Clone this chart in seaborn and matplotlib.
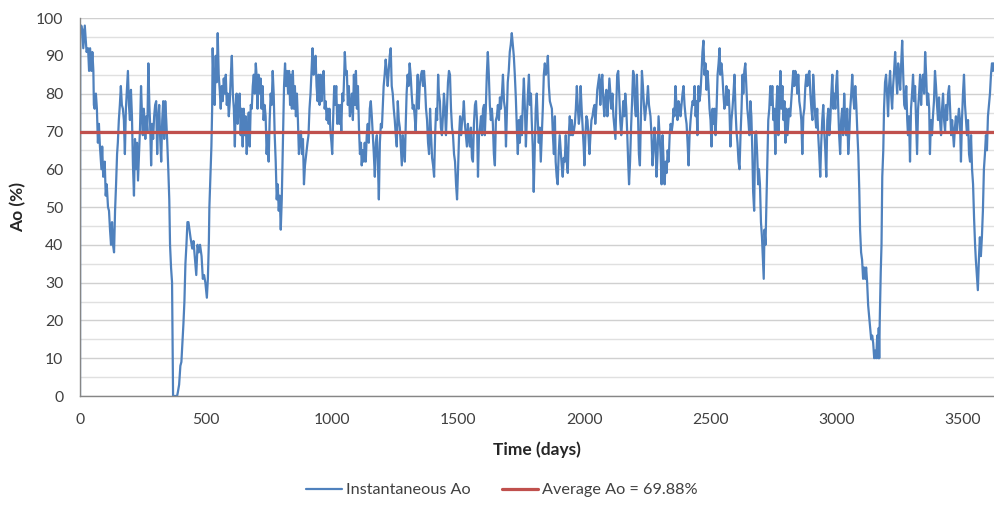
import matplotlib
matplotlib.use("Agg")
import matplotlib.pyplot as plt
import seaborn as sns
import pandas as pd
from matplotlib.lines import Line2D
from matplotlib.ticker import MultipleLocator

AVG_AO = 69.88

D1 = [0,1,5,9,13,19,23,26,32,36,40,45,49,53,55,58,63,67,71,75,79,85,88,92,98,102,106,111,115,119,
      123,127,131,135,139,143,147,150,154,158,162,166,170,174,178,182,186,190,194,198,202,206,210,214,
      218,222,226,230,234,238,242,245,249,253,259,263,267,271,275,278,282,286,290,294,298,302,306,310,
      314,318,322,326,330,334,338,342,346,350,354,357,361,365,369,377,385,388,393,398,402,406,410,414,
      418,422,426,430]
V1 = [0,97,98,97,92,98,94,91,92,86,92,86,91,86,77,76,80,76,67,72,66,60,66,58,62,53,56,50,49,44,
      40,46,40,38,49,56,64,67,73,77,82,77,76,73,64,76,81,86,77,73,81,74,61,53,68,60,67,57,64,71,
      82,76,69,76,68,74,70,88,77,72,61,72,68,74,77,78,64,73,77,68,62,73,78,68,78,73,67,60,52,40,
      34,30,0,0,0,1,3,8,9,14,19,25,35,40,46,46]

D2 = [438,445,450,455,461,466,471,476,482,487,492,497,503,507,511,513,517,521,524,526,
      530,534,538,542,546,550,554,558,562,566,570,574,578,582,586,590,594,598,602,606,
      610,614,617,621,625,629,633,637,641,645,649,653,657,661,665,669,673,677,681,685,
      689,693,697,701,704,708,712,716,720,724,728,732,736,740,744,748,752,756,760,764,
      768,772,776,780,784,788,792,796,800,803,806,809,813,817,821,825,829,833,836,840,
      844,848,852,856,860,864,868,872,876,880,884,888,892]
V2 = [42,39,41,37,32,40,38,40,37,31,32,30,26,31,41,50,58,66,76,92,
      82,77,90,83,96,85,81,76,82,78,84,80,85,77,80,74,78,85,90,80,
      76,66,76,80,72,77,80,69,76,66,76,69,74,64,70,75,66,77,76,82,
      85,80,88,84,76,85,80,84,76,82,73,77,74,64,69,62,73,80,77,86,
      80,69,62,52,56,49,53,44,52,62,71,82,88,82,86,80,86,77,85,76,
      86,76,82,74,80,73,64,68,70,64,68,56,61]

D3 = [897,902,906,910,914,918,922,926,930,934,938,942,946,950,954,958,962,966,970,974,
      978,982,986,989,993,997,1000,1004,1008,1012,1016,1020,1024,1028,1032,1036,1040,1044,1048,1050,
      1054,1058,1062,1066,1070,1074,1078,1082,1086,1090,1094,1098,1102,1106,1110,1114,1117,1121,1125,1129,
      1133,1137,1141,1145,1149,1153,1157,1161,1165,1169,1173,1177,1181,1185,1189,1193,1197,1201,1204,1208,
      1212,1216,1220,1224,1228,1232,1236,1240,1244,1248,1252,1256,1260,1264,1268,1272,1276,1280,1284,1288,
      1292,1295,1299,1303,1307,1311,1315,1319,1323,1327,1331,1335,1339,1343,1347]
V3 = [64,67,69,76,80,86,92,85,86,90,82,78,85,77,85,78,83,86,76,78,
      73,76,72,76,70,67,64,74,82,77,82,72,77,72,77,70,80,78,86,91,
      85,86,77,82,74,76,80,73,85,77,86,76,82,71,64,67,61,65,62,67,
      62,69,72,67,76,78,74,69,64,58,67,69,62,52,67,72,71,77,82,85,
      89,86,82,86,90,92,82,80,76,73,69,66,78,73,71,66,61,69,66,62,
      73,80,85,82,88,85,80,76,77,74,70,78,85,76,82]

D4 = [1352,1356,1360,1364,1368,1372,1376,1380,1384,1388,1392,1396,1400,1404,1408,1412,1416,1420,1423,1427,
      1431,1435,1439,1443,1447,1451,1455,1459,1463,1467,1471,1475,1479,1483,1487,1491,1495,1499,1503,1507,
      1511,1514,1518,1522,1526,1530,1534,1538,1542,1546,1550,1554,1558,1562,1566,1570,1574,1578,1582,1586,
      1590,1594,1598,1602,1605,1609,1613,1617,1621,1625,1629,1633,1637,1641,1645,1649,1653,1657,1661,1665,
      1669,1673,1677,1681,1685,1689,1693,1696,1700,1704,1708,1712,1716,1720,1724,1728,1732,1736,1740,1744,
      1748,1752,1756,1760,1764,1768,1772,1776,1780,1784,1788,1791,1795,1799,1802]
V4 = [85,86,82,86,82,76,73,67,64,76,69,63,61,58,69,76,73,85,80,78,
      71,69,74,80,76,69,76,83,86,85,76,71,69,64,62,56,52,60,69,74,
      69,72,74,78,72,69,66,72,68,66,71,63,62,72,77,78,73,58,69,71,
      74,69,76,77,69,76,85,91,85,77,73,76,72,64,61,73,74,77,73,79,
      76,80,85,78,76,66,76,83,86,91,93,96,93,90,85,79,71,64,73,67,
      74,69,78,84,76,66,74,80,85,77,80,73,66,54,62]

D5 = [1807,1811,1815,1819,1823,1827,1831,1835,1839,1843,1847,1851,1855,1859,1863,1867,1871,1875,1879,1883,
      1886,1890,1894,1898,1902,1906,1910,1914,1918,1922,1926,1930,1934,1938,1942,1946,1950,1954,1958,1962,
      1966,1970,1974,1978,1981,1985,1989,1993,1997,2000,2004,2008,2012,2016,2020,2024,2028,2032,2036,2040,
      2043,2047,2051,2055,2059,2063,2067,2071,2075,2079,2083,2087,2091,2095,2099,2103,2107,2111,2115,2119,
      2123,2126,2130,2134,2138,2142,2146,2150,2154,2158,2162,2166,2170,2174,2177,2181,2185,2189,2193,2196,
      2200,2204,2208,2212,2216,2220,2224,2228,2232,2236,2240,2244,2248,2252,2256]
V5 = [76,80,73,67,71,62,69,76,85,88,85,86,90,82,78,77,76,69,64,74,
      62,58,56,64,69,65,61,58,63,62,69,62,59,69,74,69,73,69,70,72,
      76,82,76,72,74,82,76,71,66,61,69,74,73,69,64,69,73,74,76,77,
      72,76,81,83,85,77,83,85,78,74,79,81,74,78,84,80,76,80,74,71,
      68,76,85,86,80,73,69,73,78,74,80,76,69,61,56,62,71,78,86,85,
      77,74,85,76,64,61,73,86,82,77,73,76,78,82,77]

D6 = [2262,2266,2270,2274,2278,2282,2286,2290,2294,2298,2302,2306,2310,2314,2318,2322,2326,2330,2334,2338,
      2342,2346,2350,2353,2357,2361,2365,2369,2373,2377,2381,2385,2389,2393,2397,2401,2405,2409,2413,2417,
      2421,2425,2429,2433,2437,2441,2444,2448,2452,2456,2460,2464,2468,2472,2476,2480,2484,2488,2492,2496,
      2500,2504,2508,2512,2516,2520,2524,2528,2532,2536,2539,2543,2547,2551,2555,2559,2563,2567,2571,2575,
      2579,2583,2587,2591,2595,2599,2603,2607,2611,2615,2619,2623,2627,2630,2634,2638,2642,2646,2650,2654,
      2658,2662,2666,2669,2673,2677,2681,2685,2689,2692,2696,2700,2704,2708,2711]
V6 = [74,69,61,65,71,67,58,64,74,69,64,56,69,62,56,62,59,65,62,69,
      72,70,72,76,74,82,77,73,78,77,74,77,80,82,77,74,72,67,61,69,
      73,76,78,77,82,74,78,69,82,78,80,85,91,94,85,88,81,86,82,76,
      73,66,76,72,76,69,76,85,88,92,85,88,85,80,76,77,82,77,81,76,
      66,73,76,80,85,76,70,67,62,60,69,76,85,80,86,88,82,76,73,69,
      78,74,64,54,49,69,70,64,56,60,56,46,42,36,31]

D7 = [2714,2718,2721,2725,2729,2733,2737,2741,2745,2749,2753,2757,2761,2765,2769,2773,2777,2781,2785,2789,2793,
      2797,2801,2805,2809,2812,2816,2820,2824,2828,2832,2836,2840,2844,2848,2852,2856,2860,2864,2868,2872,
      2876,2880,2884,2888,2892,2896,2900,2904,2907,2911,2915,2919,2923,2927,2931,2935,2939,2943,2947,2951,
      2955,2959,2963,2967,2971,2975,2979,2983,2987,2991,2995,2998,3002,3006,3010,3014,3018,3022,3026,3030,
      3034,3038,3042,3046,3050,3054,3058,3062,3066,3070,3074,3078,3082,3086,3090,3093,3097,3101,3105,3109,
      3113,3117,3121,3125,3129,3133,3137,3141,3145,3149,3153,3157,3161,3165,3167]
V7 = [44,40,49,62,73,76,82,77,82,73,76,64,76,82,69,76,86,76,82,73,78,
      67,76,69,73,76,74,78,82,86,82,86,85,80,85,78,76,73,64,74,76,
      82,85,82,85,86,80,76,73,85,80,74,71,76,69,64,58,67,73,77,70,
      65,58,73,76,69,73,80,85,76,80,76,82,86,77,69,64,73,76,69,80,
      73,69,76,64,69,76,80,85,79,76,82,77,70,64,54,44,38,36,31,34,
      31,34,30,24,21,18,15,16,14,10,12,10,16,10,18]

D8 = [3169,3171,3175,3178,3181,3185,3188,3192,3196,3200,3204,3208,3212,3216,3220,3224,3228,3232,3236,3240,
      3244,3248,3252,3256,3260,3264,3268,3272,3276,3280,3283,3287,3291,3295,3299,3303,3307,3311,3315,3319,
      3323,3327,3331,3335,3339,3343,3347,3351,3355,3359,3363,3367,3370,3374,3378,3382,3386,3390,3394,3398,
      3402,3406,3410,3414,3418,3422,3426,3430,3434,3438,3442,3446,3450,3454,3458,3461,3465,3469,3473,3477,
      3481,3485,3489,3493,3497,3501,3505,3509,3513,3517,3521,3525,3529,3533,3537,3541,3545,3549,3552,3556,
      3560,3564,3568,3572,3576,3580,3584,3588,3592,3596,3600,3604,3608,3612,3616,3620,3622]
V8 = [10,20,33,40,58,65,76,83,85,80,74,82,86,80,76,82,86,91,85,80,
      88,85,81,88,94,85,77,76,82,73,69,74,62,76,80,85,78,82,73,64,
      76,80,85,77,83,85,80,91,85,77,80,76,64,73,69,74,78,86,82,77,
      73,79,73,69,76,80,73,70,77,73,80,82,76,69,73,70,66,71,74,70,
      73,76,73,62,73,80,85,77,73,69,73,64,62,69,60,56,47,40,36,32,
      28,36,42,37,42,49,60,64,69,65,74,77,80,85,88,86,88]

X_TICKS = [0, 500, 1000, 1500, 2000, 2500, 3000, 3500]
Y_TICKS = [0, 10, 20, 30, 40, 50, 60, 70, 80, 90, 100]

days = D1 + D2 + D3 + D4 + D5 + D6 + D7 + D8
ao = V1 + V2 + V3 + V4 + V5 + V6 + V7 + V8
df = pd.DataFrame({"day": days, "ao": ao})

sns.set_style("white")
plt.rcParams["font.family"] = ["Lato", "DejaVu Sans"]

BLUE = "#4F81BD"
RED = "#C0504D"
GRID = "#D0D0D0"
AXIS = "#868686"
TXT = "#404040"

fig = plt.figure(figsize=(9.95, 5.11), dpi=100)
ax = fig.add_axes([80 / 995, 1 - 396 / 511, (994 - 80) / 995, (396 - 18) / 511])

sns.lineplot(data=df, x="day", y="ao", ax=ax, color=BLUE, lw=1.6,
             sort=False, estimator=None, errorbar=None)
ax.axhline(AVG_AO, color=RED, lw=2.3, zorder=3)

ax.set_xlim(0, 3624)
ax.set_ylim(0, 100)
ax.set_xticks(X_TICKS)
ax.set_yticks(Y_TICKS)
ax.yaxis.set_minor_locator(MultipleLocator(5))
ax.grid(which="major", axis="y", color=GRID, lw=1)
ax.grid(which="minor", axis="y", color="#E0E0E0", lw=1)
ax.grid(which="both", axis="x", visible=False)
ax.set_axisbelow(True)

for s in ["top", "right"]:
    ax.spines[s].set_visible(False)
for s in ["left", "bottom"]:
    ax.spines[s].set_color(AXIS)
    ax.spines[s].set_linewidth(1)

ax.tick_params(axis="both", which="major", direction="out", length=5, width=1,
               color=AXIS, labelsize=11.3, labelcolor=TXT)
ax.tick_params(axis="x", which="major", pad=7)
ax.tick_params(axis="y", which="major", pad=7)
ax.tick_params(which="minor", length=0)

ax.set_xlabel("Time (days)", fontsize=12.5, fontweight="bold", color="#262626")
ax.set_ylabel("Ao (%)", fontsize=12.5, fontweight="bold", color="#262626")
ax.xaxis.label.set_verticalalignment("center")
ax.xaxis.set_label_coords(0.5, (396 - 450) / 378)
ax.yaxis.label.set_verticalalignment("center")
ax.yaxis.set_label_coords((18 - 80) / 914, 0.5)

handles = [Line2D([], [], color=BLUE, lw=1.6), Line2D([], [], color=RED, lw=2.3)]
labels = ["Instantaneous Ao", f"Average Ao = {AVG_AO:.2f}%"]
fig.legend(handles, labels, loc="center", bbox_to_anchor=(502 / 995, 1 - 490 / 511),
           ncol=2, frameon=False, fontsize=11.7, handlelength=2.2, handletextpad=0.28,
           columnspacing=1.9, labelcolor=TXT)

fig.savefig("out.png", dpi=100)
